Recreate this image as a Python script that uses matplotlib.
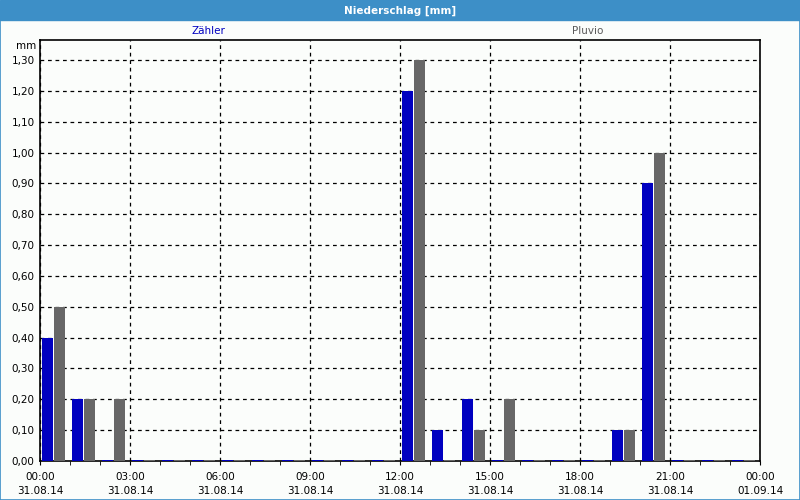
import matplotlib
matplotlib.use("Agg")
import matplotlib.pyplot as plt
from matplotlib.patches import Rectangle
import numpy as np

hours = list(range(24))
zaehler = [0.4, 0.2, 0.0, 0.0, 0.0, 0.0, 0.0, 0.0, 0.0, 0.0, 0.0, 0.0,
           1.2, 0.1, 0.2, 0.0, 0.0, 0.0, 0.0, 0.1, 0.9, 0.0, 0.0, 0.0]
pluvio = [0.5, 0.2, 0.2, 0.0, 0.0, 0.0, 0.0, 0.0, 0.0, 0.0, 0.0, 0.0,
          1.3, 0.0, 0.1, 0.2, 0.0, 0.0, 0.0, 0.1, 1.0, 0.0, 0.0, 0.0]
tick_labels = ["00:00\n31.08.14", "03:00\n31.08.14", "06:00\n31.08.14",
               "09:00\n31.08.14", "12:00\n31.08.14", "15:00\n31.08.14",
               "18:00\n31.08.14", "21:00\n31.08.14", "00:00\n01.09.14"]
y_ticks = [i / 10 for i in range(14)]

bg = "#fbfdfb"
frame_blue = "#3d8fc7"
blue = "#0000c0"
gray = "#676767"

plt.rcParams["font.family"] = ["DejaVu Sans"]
fig = plt.figure(figsize=(8, 5), dpi=100, facecolor=bg)

# window frame and title bar
fig.patches.append(Rectangle((0, 0.96), 1, 0.04, transform=fig.transFigure,
                             color=frame_blue, zorder=0))
fig.patches.append(Rectangle((0.0006, 0.001), 0.9988, 0.96, transform=fig.transFigure,
                             fill=False, edgecolor=frame_blue, lw=1.2, zorder=0))
fig.text(0.5, 0.979, "Niederschlag [mm]", color="white", fontsize=7.5,
         fontweight="bold", ha="center", va="center")

ax = fig.add_axes([0.05, 0.078, 0.9, 0.842])
ax.set_facecolor(bg)

x = np.array(hours)
zmin = 0.004  # zero values are still drawn as a thin line
ax.bar(x + 0.05, [max(v, zmin) for v in zaehler], width=0.38, align="edge",
       color=blue, zorder=3)
ax.bar(x + 0.46, [max(v, zmin) for v in pluvio], width=0.38, align="edge",
       color=gray, zorder=3)

ax.set_xlim(0, 24)
ax.set_ylim(0, 1.365)
ax.set_xticks(range(0, 25, 3))
ax.set_xticklabels(tick_labels, fontsize=7.5, linespacing=1.5)
ax.set_xticks(range(25), minor=True)
ax.set_yticks(y_ticks)
ax.set_yticklabels([f"{v:.2f}".replace(".", ",") for v in y_ticks], fontsize=7.5)
ax.tick_params(axis="x", which="both", length=3, direction="out", pad=5)
ax.tick_params(axis="y", length=0, pad=4)
ax.grid(True, color="black", linestyle=(0, (3, 3)), lw=0.9, zorder=1)
for s in ax.spines.values():
    s.set_linewidth(1.2)

fig.text(0.26, 0.938, "Zähler", color=blue, fontsize=7.5, ha="center", va="center")
fig.text(0.735, 0.938, "Pluvio", color="#5a5a5a", fontsize=7.5, ha="center", va="center")
fig.text(0.045, 0.908, "mm", fontsize=7.5, ha="right", va="center")

fig.savefig("out.png", dpi=100, facecolor=bg)
